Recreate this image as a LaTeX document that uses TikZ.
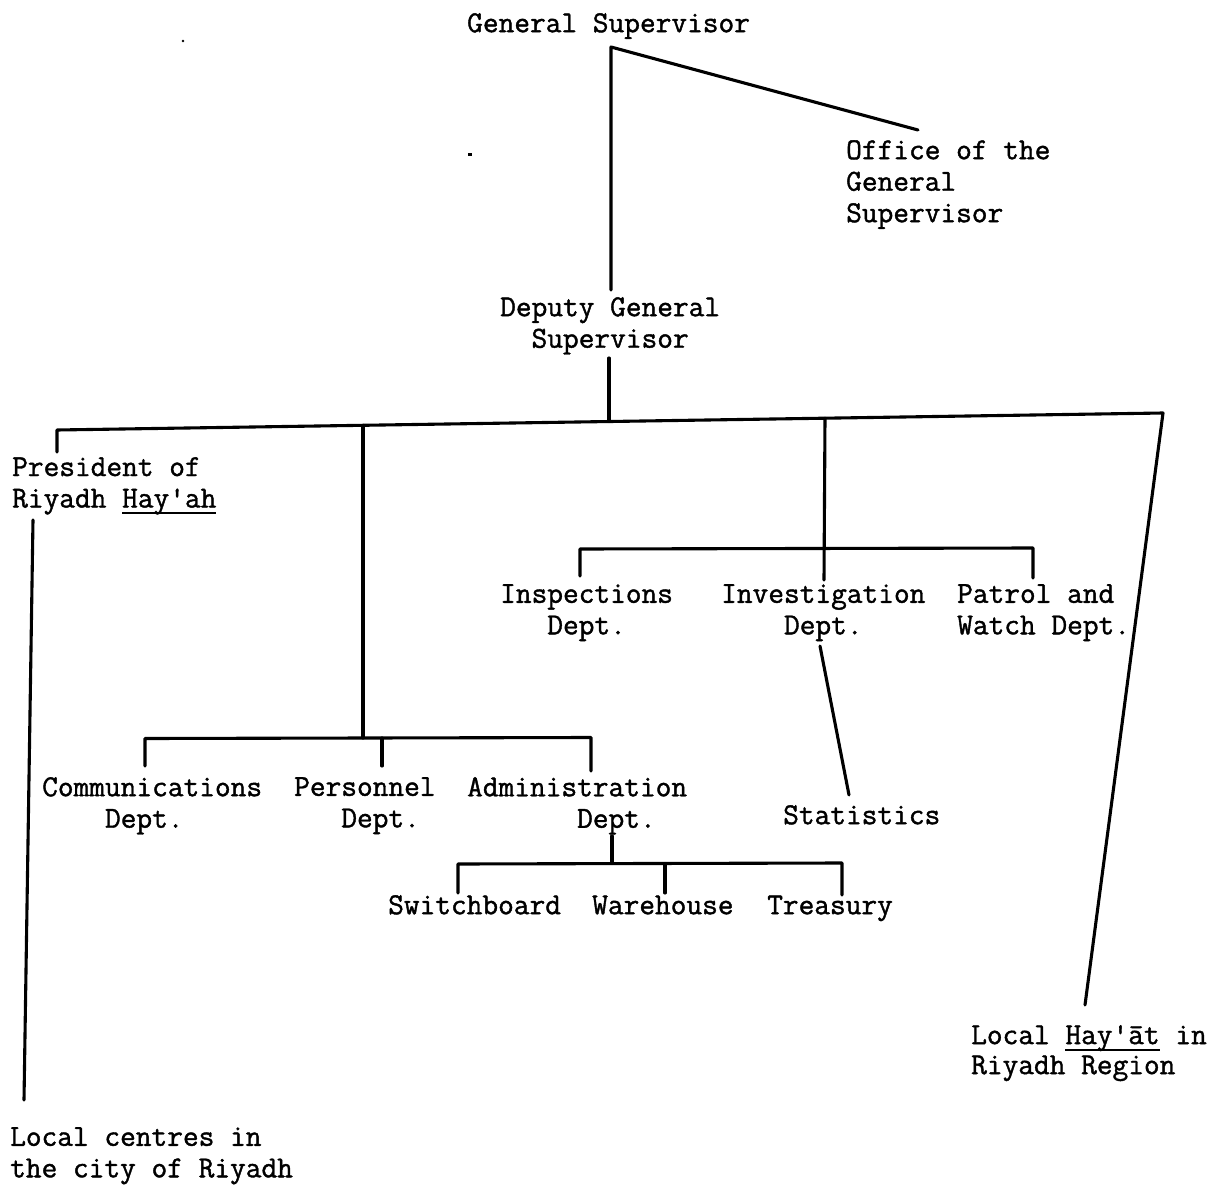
\documentclass[tikz,border=0pt]{standalone}
\usepackage{fontspec}
\setmonofont{Latin Modern Mono}
\newfontfamily\twfont[FakeBold=1.3]{Latin Modern Mono}
\newcommand\ulx[1]{\leavevmode\setbox0\hbox{#1}\rlap{\rule[-6.5pt]{\wd0}{2pt}}\box0\relax}
\newcommand\apo{\textquotesingle}
\begin{document}
\begin{tikzpicture}[x=1pt,y=-1pt,
  lbl/.style={font=\twfont\fontsize{30.5}{31.5}\selectfont, inner sep=0pt, align=left, anchor=north west,
              execute at begin node={\rule{0pt}{20pt}}},
  con/.style={line width=3.1pt, line cap=round, line join=round}]
\useasboundingbox (0,0) rectangle (1224,1185);

% labels (position = left edge, baseline - 20)
\node[lbl] (gs)   at (467,12)  {General Supervisor};
\node[lbl] (ogs)  at (846,140) {Office of the\\General\\Supervisor};
\node[lbl] (dgs)  at (500,297) {Deputy General\\\phantom{XX}Supervisor};
\node[lbl] (pres) at (12,457)  {President of\\Riyadh \ulx{Hay\apo ah}};
\node[lbl] (lc)   at (10,1127) {Local centres in\\the city of Riyadh};
\node[lbl] (insp) at (500,584) {Inspections\\\phantom{XXX}Dept.};
\node[lbl] (inv)  at (721,584) {Investigation\\\phantom{XXXX}Dept.};
\node[lbl] (pat)  at (957,584) {Patrol and\\Watch Dept.};
\node[lbl] (stat) at (783,804) {Statistics};
\node[lbl] (comm) at (42,777)  {Communications\\\phantom{XXXX}Dept.};
\node[lbl] (pers) at (294,777) {Personnel\\\phantom{XXX}Dept.};
\node[lbl] (adm)  at (467,777) {Administration\\\phantom{XXXXXXX}Dept.};
\node[lbl] (sw)   at (388,894) {Switchboard};
\node[lbl] (wh)   at (592,894) {Warehouse};
\node[lbl] (tr)   at (767,894) {Treasury};
\node[lbl] (lh)   at (971,1025) {Local \ulx{Hay\apo\={a}t} in\\[-1.5pt]Riyadh Region};

% junction coordinates
\coordinate (gsJ)   at (611,47);
\coordinate (gsD)   at (611,290);
\coordinate (ogsE)  at (918,130);
\coordinate (dgsT)  at (609,358);
\coordinate (busM)  at (609,421.5);
\coordinate (busL)  at (57,430);
\coordinate (busR)  at (1163,413);
\coordinate (presT) at (57,452);
\coordinate (busA)  at (363,425.3);
\coordinate (busB)  at (825,418.2);
\coordinate (lhT)   at (1085,1005);
\coordinate (presB) at (33,520);
\coordinate (lcT)   at (24,1100);
% communications branch
\coordinate (cJ)    at (363,738);
\coordinate (cL)    at (145,738.5);
\coordinate (cR)    at (591,737.5);
\coordinate (commT) at (145,766);
\coordinate (cP)    at (382,738);
\coordinate (persT) at (382,766);
\coordinate (admT)  at (591,771);
% administration branch
\coordinate (admB)  at (612,836);
\coordinate (aJ)    at (612,863.5);
\coordinate (aL)    at (458,864);
\coordinate (aR)    at (842,863);
\coordinate (swT)   at (458,893);
\coordinate (aW)    at (665,863.5);
\coordinate (whT)   at (665,893);
\coordinate (trT)   at (842,895);
% inspections branch
\coordinate (iL)    at (580,549);
\coordinate (iR)    at (1033,548);
\coordinate (inspT) at (580,576);
\coordinate (invT)  at (824,580);
\coordinate (patT)  at (1033,578);
\coordinate (invB)  at (820,646);
\coordinate (statT) at (849,795);

% connectors
\draw[con] (gsD) -- (gsJ) -- (ogsE);
\draw[con] (dgsT) -- (busM);
\draw[con] (presT) -- (busL) -- (busR) -- (lhT);
\draw[con] (busA) -- (cJ);
\draw[con] (commT) -- (cL) -- (cR) -- (admT);
\draw[con] (cP) -- (persT);
\draw[con] (admB) -- (aJ);
\draw[con] (swT) -- (aL) -- (aR) -- (trT);
\draw[con] (aW) -- (whT);
\draw[con] (busB) -- (invT);
\draw[con] (inspT) -- (iL) -- (iR) -- (patT);
\draw[con] (invB) -- (statT);
\draw[con] (presB) -- (lcT);

% specks
\fill (183,41) circle (1.3);
\fill (468,153.5) rectangle (472,156);
\end{tikzpicture}
\end{document}
